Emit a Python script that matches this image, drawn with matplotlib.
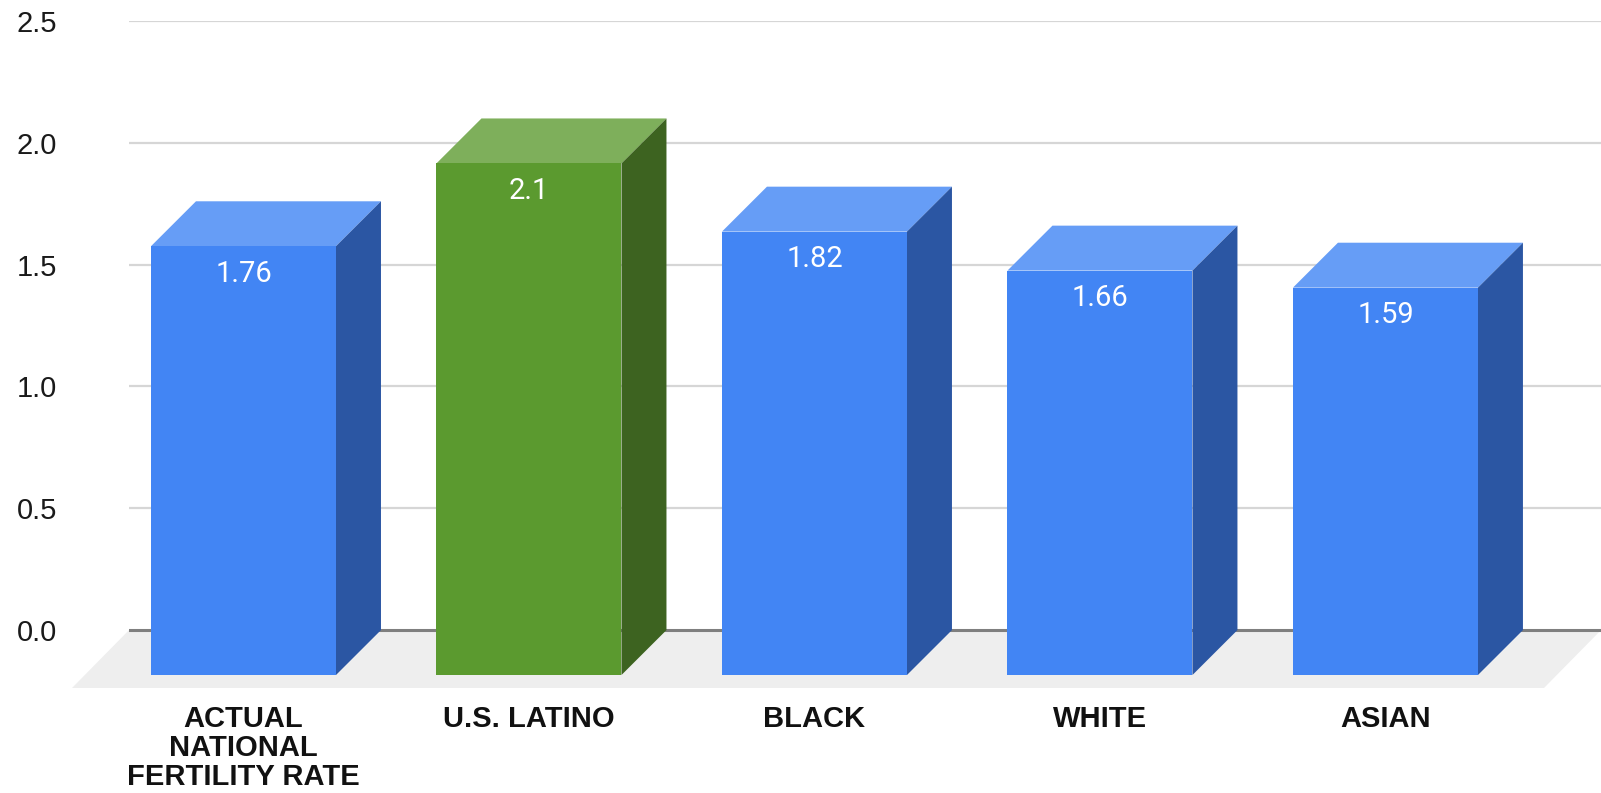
import matplotlib.pyplot as plt
from matplotlib.patches import Polygon

categories = ['ACTUAL\nNATIONAL\nFERTILITY RATE', 'U.S. LATINO', 'BLACK', 'WHITE', 'ASIAN']
rates = [1.76, 2.1, 1.82, 1.66, 1.59]
highlight = [False, True, False, False, False]
y_ticks = [0.0, 0.5, 1.0, 1.5, 2.0, 2.5]

# face colours: front, top, side
blue = ('#4285F4', '#669DF6', '#2B56A3')
green = ('#5B9A2F', '#7EAF5B', '#3D6320')

W, H, DPI = 1601, 793, 100
fig = plt.figure(figsize=(W / DPI, H / DPI), dpi=DPI)
ax = fig.add_axes([129 / W, 105 / H, 1472 / W, 667 / H])

ymin, ymax = -0.2377, 2.5
xmin, xmax = -0.401, 4.755
ax.set_ylim(ymin, ymax)
ax.set_xlim(xmin, xmax)

bar_w = 0.648   # front face width, in category units
dx = 0.1576     # depth shift, x
dy = 0.1844     # depth shift, y
floor_dx = 0.1996

# floor
floor = Polygon([(xmin, 0), (xmax, 0), (xmax - floor_dx, ymin), (xmin - floor_dx, ymin)],
                closed=True, facecolor='#EEEEEE', edgecolor='none', zorder=1, clip_on=False)
ax.add_patch(floor)

# gridlines on the back wall
for t in y_ticks[1:]:
    ax.axhline(t, color='#D6D6D6', lw=1.6, zorder=1.5)
ax.axhline(0, color='#7F7F7F', lw=2.2, zorder=2)

for i, (v, hl) in enumerate(zip(rates, highlight)):
    front, top, side = green if hl else blue
    x0, x1 = i - bar_w / 2, i + bar_w / 2
    ax.bar(i, v, width=bar_w, bottom=-dy, color=front, zorder=4, linewidth=0)
    ax.add_patch(Polygon([(x0, v - dy), (x1, v - dy), (x1 + dx, v), (x0 + dx, v)],
                         closed=True, facecolor=top, edgecolor='none', zorder=3))
    ax.add_patch(Polygon([(x1, -dy), (x1 + dx, 0), (x1 + dx, v), (x1, v - dy)],
                         closed=True, facecolor=side, edgecolor='none', zorder=3))
    ax.annotate(f'{v:g}', xy=(i, v - dy), xytext=(0, -20), textcoords='offset points',
                ha='center', va='center', color='white', fontsize=21,
                family='Roboto', zorder=5)

ax.set_yticks(y_ticks)
ax.set_yticklabels([f'{t:.1f}' for t in y_ticks], family='Liberation Sans', fontsize=21,
                   color='#1A1A1A')
ax.set_xticks(range(len(categories)))
ax.set_xticklabels(categories, family='Liberation Sans', fontsize=21, fontweight='bold',
                   color='#111111', linespacing=1.05)
ax.tick_params(axis='y', length=0, pad=52)
ax.tick_params(axis='x', length=0, pad=12)
for s in ax.spines.values():
    s.set_visible(False)

fig.savefig('out.png', dpi=DPI)
